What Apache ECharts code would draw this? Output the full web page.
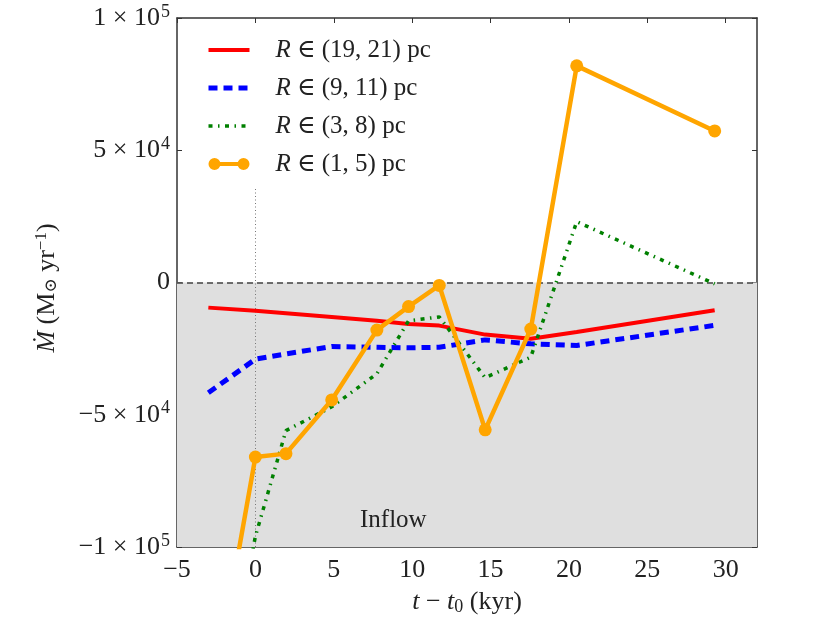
<!DOCTYPE html>
<html>
<head>
<meta charset="utf-8">
<script src="https://cdn.jsdelivr.net/npm/echarts@6/dist/echarts.min.js"></script>
<style>html,body{margin:0;padding:0;background:#fff}#c{width:830px;height:621px}</style>
</head>
<body>
<div id="c"></div>
<script>
// ---- data ----
const times = [-3, 0, 1.95, 4.87, 7.75, 9.77, 11.73, 14.66, 17.57, 20.5, 29.3];
const red    = [-9500, -10700, -11600, -13000, -14500, -15700, -16300, -19700, -21300, -18700, -10500];
const blue   = [-41700, -29000, -27000, -24200, -24500, -24700, -24500, -21700, -23200, -23800, -16200];
const green  = [-190000, -96000, -56000, -47000, -34500, -14500, -13000, -36000, -28200, 23000, -500];
const orange = [-166000, -66000, -64700, -44400, -18000, -9100, -1100, -55700, -17600, 81900, 57300];
const seriesNames = ['R ∈ (19, 21) pc', 'R ∈ (9, 11) pc', 'R ∈ (3, 8) pc', 'R ∈ (1, 5) pc'];
const xTicks = [-5, 0, 5, 10, 15, 20, 25, 30];
const xRange = [-5, 32];
const yRange = [-100000, 100000];
const yStep = 50000;

const FONT = "'Liberation Serif', 'DejaVu Serif', serif";
const pairs = arr => arr.map((v, i) => [times[i], v]);

function fmtY(v) {
  if (v === 0) return '{n|0}';
  const e = Math.floor(Math.log10(Math.abs(v)) + 1e-9);
  const m = v / Math.pow(10, e);
  return '{n|' + (m < 0 ? '−' : '') + Math.abs(Math.round(m)) + ' × 10}{s|' + e + '}';
}
function fmtX(v) { return v < 0 ? '−' + Math.abs(v) : String(v); }

const axisCol = '#333';
const chart = echarts.init(document.getElementById('c'), null, {renderer: 'canvas'});

const lineCommon = {type: 'line', smooth: false, clip: true, z: 5, emphasis: {disabled: true}};
const styles = [
  {color: '#ff0000', width: 4, type: 'solid'},
  {color: '#0000ff', width: 5, type: [9, 6]},
  {color: '#008000', width: 3.5, type: [4, 5.5, 1.5, 5.5]},
  {color: '#ffa500', width: 4.5, type: 'solid'}
];
const hidden = {opacity: 0, borderWidth: 0};

const option = {
  animation: false,
  backgroundColor: '#fff',
  grid: {left: 177, right: 73, top: 18, bottom: 69, containLabel: false},
  xAxis: [{
    type: 'value', min: xRange[0], max: xRange[1], interval: 5,
    name: '{i|t} − {i|t}{sub|0} (kyr)', nameLocation: 'middle', nameGap: 41,
    nameTextStyle: {fontFamily: FONT, fontSize: 26, color: '#222',
      rich: {i: {fontFamily: FONT, fontStyle: 'italic', fontSize: 26, color: '#222'},
             sub: {fontFamily: FONT, fontSize: 18, color: '#222', verticalAlign: 'bottom', padding: [10, 0, 0, 0]}}},
    axisLine: {show: true, onZero: false, lineStyle: {color: axisCol, width: 1.5}},
    axisTick: {show: true, inside: true, length: 5, customValues: xTicks, lineStyle: {color: axisCol}},
    axisLabel: {customValues: xTicks, formatter: fmtX, fontFamily: FONT, fontSize: 26, color: '#222', margin: 10},
    splitLine: {show: false}
  }, {
    type: 'value', position: 'top', min: xRange[0], max: xRange[1], interval: 5,
    axisLine: {show: true, onZero: false, lineStyle: {color: axisCol, width: 1.5}},
    axisTick: {show: true, inside: true, length: 5, customValues: xTicks, lineStyle: {color: axisCol}},
    axisLabel: {show: false}, splitLine: {show: false}
  }],
  yAxis: [{
    type: 'value', min: yRange[0], max: yRange[1], interval: yStep,
    axisLine: {show: true, onZero: false, lineStyle: {color: axisCol, width: 1.5}},
    axisTick: {show: true, inside: true, length: 5, lineStyle: {color: axisCol}},
    axisLabel: {formatter: fmtY, margin: 7, color: '#222',
      rich: {n: {fontFamily: FONT, fontSize: 26, color: '#222'},
             s: {fontFamily: FONT, fontSize: 18, color: '#222', verticalAlign: 'top', padding: [0, 0, 12, 1]}}},
    splitLine: {show: false}
  }, {
    type: 'value', position: 'right', min: yRange[0], max: yRange[1], interval: yStep,
    axisLine: {show: true, onZero: false, lineStyle: {color: axisCol, width: 1.5}},
    axisTick: {show: true, inside: true, length: 5, lineStyle: {color: axisCol}},
    axisLabel: {show: false}, splitLine: {show: false}
  }],
  legend: {
    orient: 'vertical', left: 206, top: 37, padding: 0, itemWidth: 41, itemHeight: 12, itemGap: 12,
    data: [
      {name: seriesNames[0], itemStyle: hidden, lineStyle: styles[0]},
      {name: seriesNames[1], itemStyle: hidden, lineStyle: styles[1]},
      {name: seriesNames[2], itemStyle: hidden, lineStyle: styles[2]},
      {name: seriesNames[3], icon: 'path://M0,6a6,6 0 1,1 12,0a6,6 0 1,1 -12,0z M29,6a6,6 0 1,1 12,0a6,6 0 1,1 -12,0z M6,4h29v4h-29z'}
    ],
    formatter: n => n.replace(/^R/, '{i|R}'),
    textStyle: {fontFamily: FONT, fontSize: 25, color: '#222', lineHeight: 26, padding: [0, 0, 0, 21],
      rich: {i: {fontFamily: FONT, fontStyle: 'italic', fontSize: 25, color: '#222'}}},
    selectedMode: false
  },
  series: [
    {type: 'line', name: 'bg', data: [], z: 1, silent: true,
     markArea: {silent: true, itemStyle: {color: '#dfdfdf'},
       data: [[{yAxis: 0}, {yAxis: yRange[0]}]]},
     markLine: {silent: true, symbol: 'none', label: {show: false},
       data: [
         {yAxis: 0, lineStyle: {color: '#444', width: 1.5, type: [6, 4]}},
         [{coord: [0, yRange[0]], lineStyle: {color: '#777', width: 1, type: [1, 2.5]}}, {coord: [0, 35500]}]
       ]}},
    Object.assign({}, lineCommon, {name: seriesNames[0], data: pairs(red), symbol: 'none',
      lineStyle: styles[0], itemStyle: {color: styles[0].color}}),
    Object.assign({}, lineCommon, {name: seriesNames[1], data: pairs(blue), symbol: 'none',
      lineStyle: styles[1], itemStyle: {color: styles[1].color}}),
    Object.assign({}, lineCommon, {name: seriesNames[2], data: pairs(green), symbol: 'none',
      lineStyle: styles[2], itemStyle: {color: styles[2].color}}),
    Object.assign({}, lineCommon, {name: seriesNames[3], data: pairs(orange), symbol: 'circle', symbolSize: 13,
      showSymbol: true, lineStyle: styles[3], itemStyle: {color: styles[3].color}})
  ]
};
chart.setOption(option);

const inflowPos = chart.convertToPixel({xAxisIndex: 0, yAxisIndex: 0}, [8.8, -90000]);
chart.setOption({
  graphic: [
    {type: 'text', x: 47, y: 288, rotation: Math.PI / 2,
     style: {text: '{i|Ṁ} (M{sub|⊙} yr{sup|−1})', fontFamily: FONT, fontSize: 26, fill: '#222', align: 'center', verticalAlign: 'middle',
       rich: {i: {fontFamily: FONT, fontStyle: 'italic', fontSize: 26, fill: '#222'},
              sub: {fontFamily: FONT, fontSize: 17, fill: '#222', verticalAlign: 'bottom', padding: [10, 0, 0, 0]},
              sup: {fontFamily: FONT, fontSize: 17, fill: '#222', verticalAlign: 'top', padding: [0, 0, 10, 0]}}}},
    {type: 'text', x: inflowPos[0], y: inflowPos[1], z: 10,
     style: {text: 'Inflow', fontFamily: FONT, fontSize: 25, fill: '#222', align: 'center', verticalAlign: 'middle'}}
  ]
});
</script>
</body>
</html>
